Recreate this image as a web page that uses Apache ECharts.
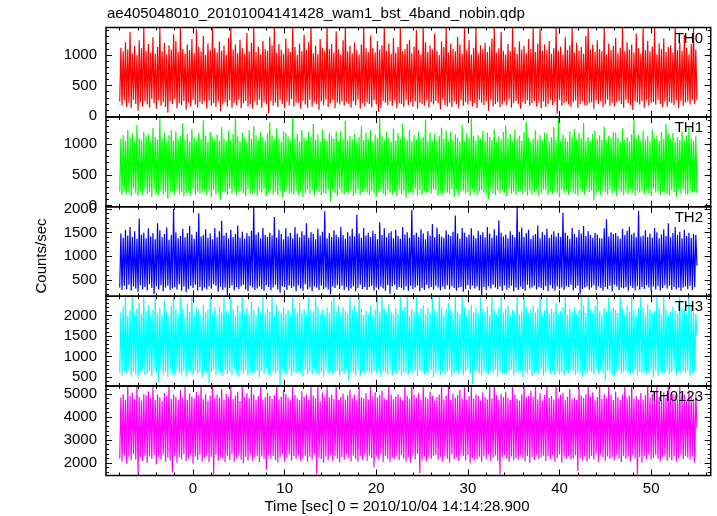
<!DOCTYPE html>
<html><head><meta charset="utf-8">
<script src="https://cdn.jsdelivr.net/npm/echarts@6/dist/echarts.min.js"></script>
<style>html,body{margin:0;padding:0;background:#fff}#c{width:717px;height:516px}</style>
</head><body><div id="c"></div>
<script>
const chartTitle = "ae405048010_20101004141428_wam1_bst_4band_nobin.qdp";
const xName = "Time [sec] 0 = 2010/10/04 14:14:28.900";
const yName = "Counts/sec";
const seriesNames = ["TH0", "TH1", "TH2", "TH3", "TH0123"];
const timeStart = -8, timeStep = 0.125;

const th0 = [
240,1120,180,1060,260,1210,150,1090,220,1380,130,1030,
270,1150,200,1000,90,1240,230,1110,160,1450,250,1070,
190,1180,140,1040,280,1290,210,1020,120,1130,260,1450,
170,1060,230,1200,150,1010,60,1160,240,1090,200,1340,
280,1230,130,1050,210,1450,180,1100,250,1020,110,1170,
220,1080,160,1260,270,1030,190,1420,140,1140,230,1060,
200,1310,250,1000,120,1190,260,1080,170,1450,210,1120,
150,1040,240,1220,80,1070,190,1150,230,1010,160,1280,
260,1450,140,1090,220,1170,180,1030,270,1250,130,1110,
210,1020,250,1360,160,1060,200,1200,120,1450,240,1050,
180,1140,270,1010,140,1230,230,1100,190,1070,40,1300,
250,1160,170,1450,220,1040,150,1180,260,1090,200,1020,
130,1270,240,1110,180,1050,280,1450,160,1130,220,1000,
210,1190,120,1060,250,1330,190,1080,140,1210,270,1450,
160,1030,230,1150,200,1020,100,1260,240,1120,180,1070,
270,1450,150,1100,210,1180,260,1040,130,1390,220,1090,
190,1010,240,1240,170,1450,230,1060,200,1150,140,1030,
250,1200,180,1080,270,1010,120,1170,210,1450,160,1110,
230,1050,200,1320,150,1120,260,1040,190,1230,70,1090,
140,1160,250,1450,220,1070,180,1190,240,1020,170,1280,
260,1040,130,1130,210,1450,200,1060,150,1100,270,1180,
180,1250,230,1030,160,1140,240,1410,120,1080,220,1010,
200,1450,170,1210,260,1050,140,1160,230,1090,190,1350,
250,1070,210,1000,110,1220,270,1130,180,1450,160,1040,
220,1190,150,1100,240,1060,200,1300,130,1170,260,1020,
170,1450,230,1080,190,1240,250,1010,160,1120,210,1450,
130,1030,270,1160,220,1090,180,1200,240,1050,90,1140,
260,1270,160,1450,200,1040,230,1110,150,1380,190,1070,
240,1010,180,1180,270,1060,140,1450,210,1130,250,1020,
190,1220,120,1090,230,1150,200,1030,260,1260,170,1100,
210,1450,250,1050,160,1190,220,1420,130,1070,240,1170,
150,1080,200,1230,270,1020,180,1110,230,1450,50,1060,
270,1140,170,1010,210,1290,240,1080,190,1160,150,1450,
230,1040,260,1200,140,1070,200,1130,250,1020,180,1310,
180,1450,210,1090,230,1170,120,1050,260,1240,200,1100,
240,1060,150,1450,190,1010,270,1190,170,1080,220,1150,
160,1280,230,1030,250,1120,200,1450,140,1060,260,1210,
210,1090,180,1170,100,1040,240,1350,220,1110,190,1020,
250,1450,140,1080,260,1230,170,1060,210,1140,230,1450,
190,1010,270,1190,200,1100,150,1270,240,1050,160,1130,
230,1160,210,1040,180,1450,260,1080,130,1200,250,1070,
170,1330,220,1120,240,1010,190,1180,270,1450,200,1090,
260];

const th1 = [
230,1090,170,1150,250,1060,190,1240,210,1110,150,1180,
260,1040,200,1320,160,1100,240,1070,180,1200,270,1130,
190,1160,220,1050,140,1270,260,1120,200,1080,170,1440,
250,1100,180,1190,230,1040,110,1150,210,1230,240,1060,
170,1210,260,1080,190,1130,220,1350,150,1070,200,1170,
240,1050,160,1250,270,1110,180,1060,230,1190,190,1090,
210,1390,250,1140,170,1040,240,1200,140,1120,260,1080,
180,1160,200,1060,90,1280,230,1100,210,1050,170,1220,
270,1080,190,1170,250,1420,160,1130,220,1060,240,1190,
200,1110,150,1040,260,1230,190,1090,180,1300,230,1150,
160,1070,240,1200,210,1120,270,1050,150,1180,200,1360,
250,1140,180,1080,230,1260,170,1100,240,1040,130,1210,
220,1190,260,1130,190,1060,210,1440,180,1090,250,1170,
170,1050,230,1240,140,1110,200,1070,260,1200,190,1120,
240,1330,160,1080,250,1160,220,1040,170,1250,210,1100,
190,1060,270,1180,60,1130,240,1090,200,1210,150,1050,
260,1220,210,1100,180,1380,230,1060,190,1140,240,1080,
150,1170,200,1040,250,1120,170,1290,220,1070,260,1190,
210,1090,180,1230,240,1050,200,1160,140,1100,230,1440,
270,1130,190,1070,160,1200,250,1110,210,1040,180,1260,
230,1060,150,1180,260,1090,190,1340,240,1120,120,1070,
200,1240,220,1050,180,1150,270,1080,160,1210,250,1100,
170,1120,240,1400,210,1060,230,1190,190,1040,260,1170,
250,1080,160,1130,200,1270,180,1090,240,1230,210,1050,
190,1200,270,1070,140,1160,250,1110,170,1040,230,1320,
240,1050,200,1180,220,1100,160,1430,260,1140,190,1060,
160,1150,230,1090,250,1220,210,1060,180,1190,100,1120,
270,1070,190,1250,170,1040,240,1130,200,1080,250,1200,
210,1310,150,1100,260,1170,190,1050,230,1240,170,1090,
230,1140,250,1060,180,1200,220,1370,160,1110,240,1040,
180,1090,210,1230,270,1080,150,1150,200,1060,260,1190,
250,1180,170,1050,230,1120,190,1280,240,1070,210,1440,
140,1060,260,1160,200,1100,250,1040,180,1210,220,1130,
200,1250,190,1080,160,1190,270,1110,230,1350,170,1060,
260,1120,220,1040,240,1170,80,1230,190,1090,250,1150,
170,1070,230,1290,210,1060,180,1140,260,1100,200,1200,
240,1190,150,1110,250,1050,220,1260,170,1080,230,1120,
190,1040,270,1170,200,1410,160,1090,240,1160,210,1060,
230,1220,180,1080,260,1130,190,1050,150,1240,270,1100,
210,1140,240,1060,170,1200,230,1090,200,1330,180,1170,
160,1090,250,1180,220,1040,140,1120,260,1070,190,1210,
250,1060,200,1150,180,1270,240,1100,210,1050,230,1130,
200];

const th2 = [
340,1480,290,1390,380,1560,310,1440,400,1620,270,1410,
360,1530,320,1370,250,1800,390,1460,300,1500,350,1380,
280,1590,410,1420,330,1490,200,1360,370,1700,300,1550,
390,1400,260,1470,340,1610,380,1350,290,1450,320,2000,
350,1510,300,1380,410,1430,270,1580,360,1400,240,1490,
310,1640,380,1460,330,1370,400,1520,280,1910,350,1420,
270,1450,340,1570,300,1390,370,1480,320,1360,410,1600,
380,1400,250,1530,360,1750,290,1440,340,1500,180,1380,
330,1560,390,1410,280,1470,350,1650,310,1390,370,1520,
400,1370,300,1490,260,1430,380,1540,340,2050,290,1460,
320,1510,360,1380,310,1600,270,1450,390,1410,350,1500,
280,1440,340,1830,400,1390,300,1560,230,1470,370,1360,
350,1590,290,1420,380,1500,330,1380,360,1620,260,1480,
390,1400,320,1530,270,1450,410,1700,300,1390,340,1510,
260,1470,370,1360,340,1580,290,1440,380,1520,310,1950,
340,1380,300,1490,200,1410,360,1550,330,1460,390,1400,
310,1620,380,1450,290,1370,350,1510,270,1430,320,1580,
370,1420,260,1880,330,1480,400,1390,310,1600,350,1440,
290,1500,350,1410,380,1540,280,1470,340,1360,300,1720,
360,1450,320,1590,270,1400,390,1490,210,1530,370,1380,
400,1560,300,1430,350,1370,330,1620,290,1460,360,1510,
270,1390,380,1980,310,1450,340,1500,380,1410,260,1570,
330,1480,290,1360,400,1530,320,1440,350,1680,300,1400,
380,1610,340,1470,280,1420,360,1390,310,1550,390,1460,
300,1430,370,1520,330,1860,270,1480,340,1370,350,1600,
250,1500,310,1410,390,1460,300,1590,380,1440,320,1380,
360,1540,280,1450,170,1510,350,1400,290,1620,370,1480,
320,1390,400,1570,340,1440,310,1760,360,1500,270,1420,
390,1460,300,1380,330,1530,380,1450,260,1400,340,2040,
290,1520,360,1610,310,1410,270,1490,400,1560,320,1370,
340,1440,380,1470,300,1650,350,1380,330,1510,290,1450,
370,1580,260,1390,390,1460,320,1530,280,1420,360,1490,
310,1410,340,1920,290,1500,370,1440,350,1370,400,1600,
280,1470,330,1400,380,1560,200,1480,310,1640,340,1430,
360,1530,300,1450,340,1390,390,1500,290,1460,370,1380,
330,1380,270,1590,350,1780,310,1420,380,1510,260,1470,
400,1490,360,1430,290,1370,340,1580,320,1450,350,1540,
270,1620,380,1460,330,1500,280,1400,370,1960,300,1420,
350,1440,310,1550,390,1410,340,1480,260,1390,360,1600,
300,1510,370,1380,280,1460,330,1570,390,1430,320,1700,
380,1400,290,1490,350,1620,300,1450,340,1520,270,1380,
340,1560,360,1430,310,1500,380,1390,290,1470,350,1450,
800];

const th3 = [
610,2080,540,2210,660,2465,580,1990,690,2130,520,2465,
640,2020,570,2170,490,2300,620,2050,680,2465,550,2100,
590,2240,650,1980,530,2140,700,2465,600,2060,380,2190,
670,2010,560,2360,630,2110,510,2000,660,2230,580,2465,
540,2150,690,2040,600,2465,570,2180,640,1970,520,2270,
680,2090,610,2465,550,2030,660,2200,590,2120,630,2010,
500,2260,650,2070,580,2150,350,2465,620,2040,690,2190,
560,2000,640,2220,600,2080,530,2465,670,2130,580,2050,
620,2465,550,2160,690,1990,600,2240,520,2100,650,2465,
590,2060,670,2180,540,2030,630,2320,580,2140,610,2010,
660,2210,500,2080,650,2465,590,2050,700,2170,560,2090,
530,2465,620,2000,580,2250,640,2110,310,2060,680,2200,
600,2040,560,2140,690,2020,540,2465,620,2190,590,2080,
650,2300,610,2070,520,2160,670,2030,580,2465,640,2120,
570,2100,680,2465,600,2220,550,2050,630,2140,510,2000,
690,2180,590,2060,640,2350,560,2465,610,2090,660,2230,
540,2020,630,2200,580,2110,690,2040,400,2465,600,2150,
620,2250,550,2080,670,2465,520,2170,640,2010,580,2120,
660,2060,600,2230,570,2000,650,2140,590,2465,680,2090,
510,2465,640,2160,610,2070,560,2280,700,2100,550,2030,
630,2190,580,2040,660,2465,540,2130,620,2210,590,2465,
570,2010,690,2150,600,2090,650,2465,530,2050,670,2170,
640,2240,560,2030,620,2180,590,2070,680,2465,500,2120,
600,2080,670,2465,550,2200,630,2010,570,2150,640,2290,
680,2140,520,2060,610,2465,660,2100,590,2040,620,2465,
550,2210,640,2000,700,2130,580,2260,330,2080,660,2180,
620,2050,590,2465,540,2170,650,2090,600,2220,570,2010,
660,2465,610,2120,680,2040,520,2190,640,2465,580,2070,
590,2160,570,2250,630,2010,690,2140,550,2080,610,2465,
640,2030,660,2110,500,2465,620,2200,580,2060,670,2150,
530,2240,600,2070,650,2180,570,2465,690,2020,540,2120,
610,2465,680,2050,590,2160,640,2090,560,2300,630,2040,
570,2110,620,2200,540,2465,660,2010,600,2170,680,2080,
650,2190,550,2040,610,2130,590,2465,520,2250,640,2060,
600,2465,670,2150,630,2070,560,2230,680,2465,580,2100,
680,2020,590,2180,420,2090,650,2465,610,2140,550,2200,
540,2130,640,2060,700,2465,580,2170,620,2030,660,2250,
620,2080,560,2465,600,2120,690,2010,540,2190,630,2465,
590,2200,650,2040,570,2260,610,2150,670,2070,510,2110,
660,2465,530,2180,640,2030,600,2465,580,2140,690,2010,
570,2090,620,2210,680,2120,550,2060,630,2465,600,2170,
640,2150,590,2050,660,2465,520,2230,610,2090,650,2040,
1500];

const th0123 = [
2200,4850,2050,5000,2330,4760,1980,5360,2270,4910,2120,5060,
2380,4790,2150,5360,1500,4880,2240,4720,2090,5010,2310,4950,
2010,5120,2290,4830,2180,5360,2350,4750,1950,4980,2260,4870,
2140,4700,2370,5050,2060,4920,2230,5360,2110,4800,1600,5000,
2300,4890,2020,4770,2250,5170,2160,4860,2390,5360,2080,4740,
2190,5030,2340,4900,1970,4810,2280,5090,2130,4950,2360,5360,
2070,4780,2210,5000,2320,4720,2040,4940,2270,5360,1500,4830,
2350,4970,2100,4850,2240,5240,2180,4760,2030,5020,2290,4880,
2120,5360,2380,4790,2060,4930,2200,5100,2330,4710,2150,5360,
1990,4860,2260,5040,2110,4820,2370,5360,2090,4990,2230,4770,
2310,4920,2040,5360,2280,4750,2170,4870,1700,5050,2340,4940,
2180,4800,2300,4960,2130,5360,2020,4780,2250,4900,2390,5180,
2060,5010,2220,4840,2360,4730,2100,5360,2290,4960,2170,4820,
2340,4750,2080,5130,2190,4890,2320,5000,2050,4770,2270,5360,
2140,4930,2390,4810,1500,5360,2230,4700,2160,5070,2010,4900,
2270,5360,2120,4860,2350,4980,2080,4790,2300,5360,2190,4740,
2030,4880,2260,5020,2140,4760,2380,4950,2210,5200,2070,4830,
2320,4990,2170,4730,2050,5360,2290,4870,2130,4800,2360,5040,
2100,4770,2340,5360,2220,4910,1800,5080,2270,4850,2150,4960,
2380,5150,2060,4820,2310,4740,2180,5360,2040,4990,2240,4780,
2160,4900,2290,5000,2120,4860,2350,4720,2200,5360,2080,4930,
2250,4790,2010,5360,2330,4970,2150,4840,2390,5060,1550,4750,
2110,5360,2280,4880,2070,4800,2230,5110,2170,4920,2320,4710,
2360,4860,2140,4990,2260,5360,2050,4770,2300,4940,2190,5360,
2020,4740,2370,5030,2180,4850,2240,4960,2090,5190,2340,4820,
2290,5360,2110,4760,2350,4910,1990,5360,2210,4800,2130,5000,
2180,4930,2270,4720,2060,5080,2310,4880,2150,4780,2380,5360,
2070,4810,2230,5360,2330,4950,2100,4740,1500,5020,2260,4870,
2340,5100,2190,4830,2040,4760,2280,5360,2120,4970,2200,4800,
2150,4720,2360,4990,2220,5360,2080,4860,2300,4930,2010,5140,
2250,4890,2130,5360,2370,4780,2170,5040,2240,4710,2320,4960,
2090,5360,2290,4840,2160,4920,2350,4770,2050,5360,2210,4820,
2380,4980,2020,5060,2270,4740,2190,4900,2310,5230,2140,4790,
2200,4850,2340,4760,1650,5360,2230,4940,2110,4830,2290,5000,
2060,5360,2180,4910,2300,5070,2150,4730,2390,4880,2030,5360,
2330,4790,2250,5000,2100,4820,2280,5360,2170,4960,2240,4740,
2120,5120,2360,4870,2200,4750,2040,4990,2310,5360,2180,4840,
2280,4930,2070,5360,2340,4800,2210,4920,1500,4780,2260,5050,
2010,4760,2300,4970,2160,5360,2370,4850,2140,5010,2220,4720,
2350,5360,2190,4890,2080,4740,2250,5080,2330,4830,2100,5360,
2240,4820,2120,5020,2290,4950,2060,4770,2200,5360,2370,4900,
2170,4990,2310,4730,2230,5170,2140,4860,2280,4790,2020,5000,
3500];

const allSeries = [th0, th1, th2, th3, th0123];
const xRange = [-9.5, 56.5];
const xMajorTicks = [0, 10, 20, 30, 40, 50];
const xMinorStep = 2;
const yRanges = [[-15, 1450], [-20, 1445], [155, 2048], [290, 2465], [1455, 5360]];
const yMajorTicks = [[0, 500, 1000], [0, 500, 1000], [500, 1000, 1500, 2000], [500, 1000, 1500, 2000], [2000, 3000, 4000, 5000]];
const yMinorStep = [100, 100, 100, 100, 200];
const colors = ['#ff0000', '#00ff00', '#0000ff', '#00ffff', '#ff00ff'];

const FONT = "'Liberation Sans', Arial, Helvetica, sans-serif";
const L = 106, W = 604.7, TOP = 27.5, H = 89.6;

function range(a, b, s) { const r = []; for (let v = Math.ceil(a / s) * s; v <= b + 1e-9; v += s) r.push(v); return r; }
const xMinorTicks = range(xRange[0], xRange[1], xMinorStep);
const plain = v => String(v);

const grids = [], xAxes = [], yAxes = [], series = [], graphics = [];
const tickStyle = { color: '#000', width: 1 };
for (let i = 0; i < 5; i++) {
  grids.push({ left: L, width: W, top: TOP + i * H, height: H, show: true, borderColor: '#000', borderWidth: 1.5, backgroundColor: 'transparent', z: 5 });
  const xBase = { gridIndex: i, type: 'value', min: xRange[0], max: xRange[1], offset: 0, axisLine: { show: false, onZero: false }, splitLine: { show: false } };
  ['bottom', 'top'].forEach(pos => {
    xAxes.push(Object.assign({}, xBase, { position: pos,
      axisTick: { show: true, inside: true, length: 6, customValues: xMajorTicks, lineStyle: tickStyle },
      axisLabel: { show: (i === 4 && pos === 'bottom'), customValues: xMajorTicks, formatter: plain, color: '#000', fontSize: 15, fontFamily: FONT, margin: 6 } }));
    xAxes.push(Object.assign({}, xBase, { position: pos,
      axisTick: { show: true, inside: true, length: 3, customValues: xMinorTicks, lineStyle: tickStyle },
      axisLabel: { show: false } }));
  });
  const yMin = yRanges[i][0], yMax = yRanges[i][1];
  const yMinor = range(yMin, yMax, yMinorStep[i]);
  const yBase = { gridIndex: i, type: 'value', min: yMin, max: yMax, offset: 0, axisLine: { show: false, onZero: false }, splitLine: { show: false } };
  ['left', 'right'].forEach(pos => {
    yAxes.push(Object.assign({}, yBase, { position: pos,
      axisTick: { show: true, inside: true, length: 6, customValues: yMajorTicks[i], lineStyle: tickStyle },
      axisLabel: { show: pos === 'left', customValues: yMajorTicks[i], formatter: plain, color: '#000', fontSize: 15, fontFamily: FONT, margin: 9 } }));
    yAxes.push(Object.assign({}, yBase, { position: pos,
      axisTick: { show: true, inside: true, length: 3, customValues: yMinor, lineStyle: tickStyle },
      axisLabel: { show: false } }));
  });
  const vals = allSeries[i];
  series.push({
    type: 'line', name: seriesNames[i], xAxisIndex: i * 4, yAxisIndex: i * 4,
    data: vals.map((v, k) => [timeStart + k * timeStep, v]),
    showSymbol: false, symbol: 'none', clip: true, animation: false, z: 1,
    lineStyle: { color: colors[i], width: 1.2 }, itemStyle: { color: colors[i] }
  });
  graphics.push({ type: 'text', z: 100, style: { text: seriesNames[i], x: 703, y: TOP + i * H + 11, align: 'right', verticalAlign: 'middle', font: '15px ' + FONT, fill: '#000' } });
}
graphics.push({ type: 'text', style: { text: chartTitle, x: 107, y: 14, align: 'left', verticalAlign: 'middle', font: '15px ' + FONT, fill: '#000' } });
graphics.push({ type: 'text', style: { text: xName, x: 397, y: 507, align: 'center', verticalAlign: 'middle', font: '15px ' + FONT, fill: '#000' } });
graphics.push({ type: 'text', rotation: Math.PI / 2, x: 42, y: 256, style: { text: yName, x: 0, y: 0, align: 'center', verticalAlign: 'middle', font: '15px ' + FONT, fill: '#000' } });

const chart = echarts.init(document.getElementById('c'), null, { renderer: 'canvas' });
chart.setOption({ backgroundColor: '#fff', animation: false, grid: grids, xAxis: xAxes, yAxis: yAxes, series: series, graphic: graphics });
</script></body></html>
